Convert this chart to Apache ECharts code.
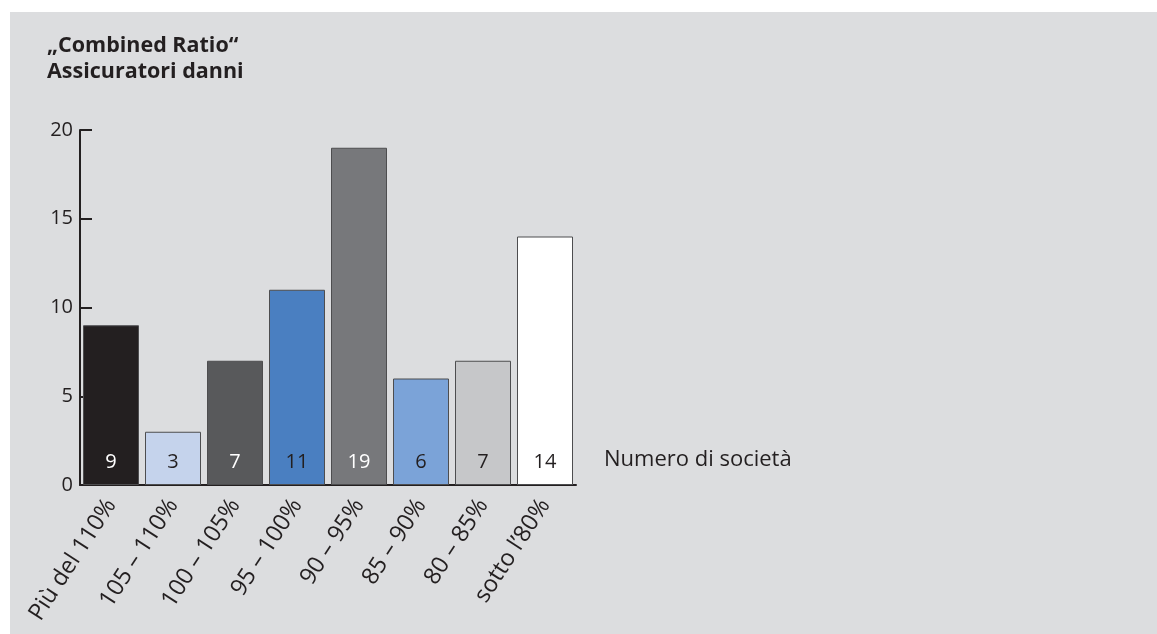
<!DOCTYPE html>
<html>
<head>
<meta charset="utf-8">
<script src="https://cdn.jsdelivr.net/npm/echarts@6/dist/echarts.min.js"></script>
<style>
  html, body { margin: 0; padding: 0; background: #fff; }
  #chart { width: 1157px; height: 634px; }
</style>
</head>
<body>
<div id="chart"></div>
<script>
// dati
var categories = ['Più del 110%', '105 – 110%', '100 – 105%', '95 – 100%', '90 – 95%', '85 – 90%', '80 – 85%', 'sotto l’80%'];
var values = [9, 3, 7, 11, 19, 6, 7, 14];
var barColors = ['#231f20', '#c5d3ec', '#58595b', '#4a7fc1', '#77787b', '#7ba3d8', '#c6c7c9', '#ffffff'];
var labelColors = ['#ffffff', '#231f20', '#ffffff', '#231f20', '#ffffff', '#231f20', '#231f20', '#231f20'];
var yTicks = [0, 5, 10, 15, 20];
var seriesName = 'Numero di società';

var font = '"Open Sans", "Noto Sans", sans-serif';

var chart = echarts.init(document.getElementById('chart'));

var barData = values.map(function (v, i) {
    return {
        value: v,
        itemStyle: { color: barColors[i] },
        label: { color: labelColors[i] }
    };
});

chart.setOption({
    backgroundColor: '#ffffff',
    animation: false,
    textStyle: { fontFamily: font },
    graphic: [
        {
            type: 'rect',
            z: -100,
            silent: true,
            shape: { x: 10, y: 12, width: 1147, height: 622 },
            style: { fill: '#dcdddf' }
        },
        {
            type: 'text',
            left: 604,
            top: 449,
            style: {
                text: seriesName,
                fill: '#231f20',
                font: '22px ' + font
            }
        }
    ],
    title: {
        text: '„Combined Ratio“\nAssicuratori danni',
        left: 42,
        top: 28,
        textStyle: {
            fontFamily: font,
            fontWeight: 'bold',
            fontSize: 21.5,
            lineHeight: 26,
            color: '#231f20'
        }
    },
    grid: {
        left: 80,
        top: 130,
        width: 496,
        height: 355
    },
    xAxis: {
        type: 'category',
        data: categories,
        axisLine: { lineStyle: { color: '#231f20', width: 2 } },
        axisTick: { show: false },
        axisLabel: {
            rotate: 57,
            interval: 0,
            margin: 16,
            fontSize: 23.5,
            color: '#231f20',
            fontFamily: font
        }
    },
    yAxis: {
        type: 'value',
        min: yTicks[0],
        max: yTicks[yTicks.length - 1],
        interval: 5,
        axisLine: { show: true, lineStyle: { color: '#231f20', width: 2 } },
        axisTick: { show: true, inside: true, length: 12, lineStyle: { color: '#231f20', width: 2 } },
        splitLine: { show: false },
        axisLabel: {
            margin: 7,
            fontSize: 20,
            color: '#231f20',
            fontFamily: font
        }
    },
    series: [
        {
            name: seriesName,
            type: 'bar',
            barWidth: 56,
            data: barData,
            itemStyle: { borderColor: '#4d4d4f', borderWidth: 1 },
            label: {
                show: true,
                position: 'insideBottom',
                distance: 13,
                fontSize: 20,
                fontFamily: font
            }
        }
    ]
});
</script>
</body>
</html>
